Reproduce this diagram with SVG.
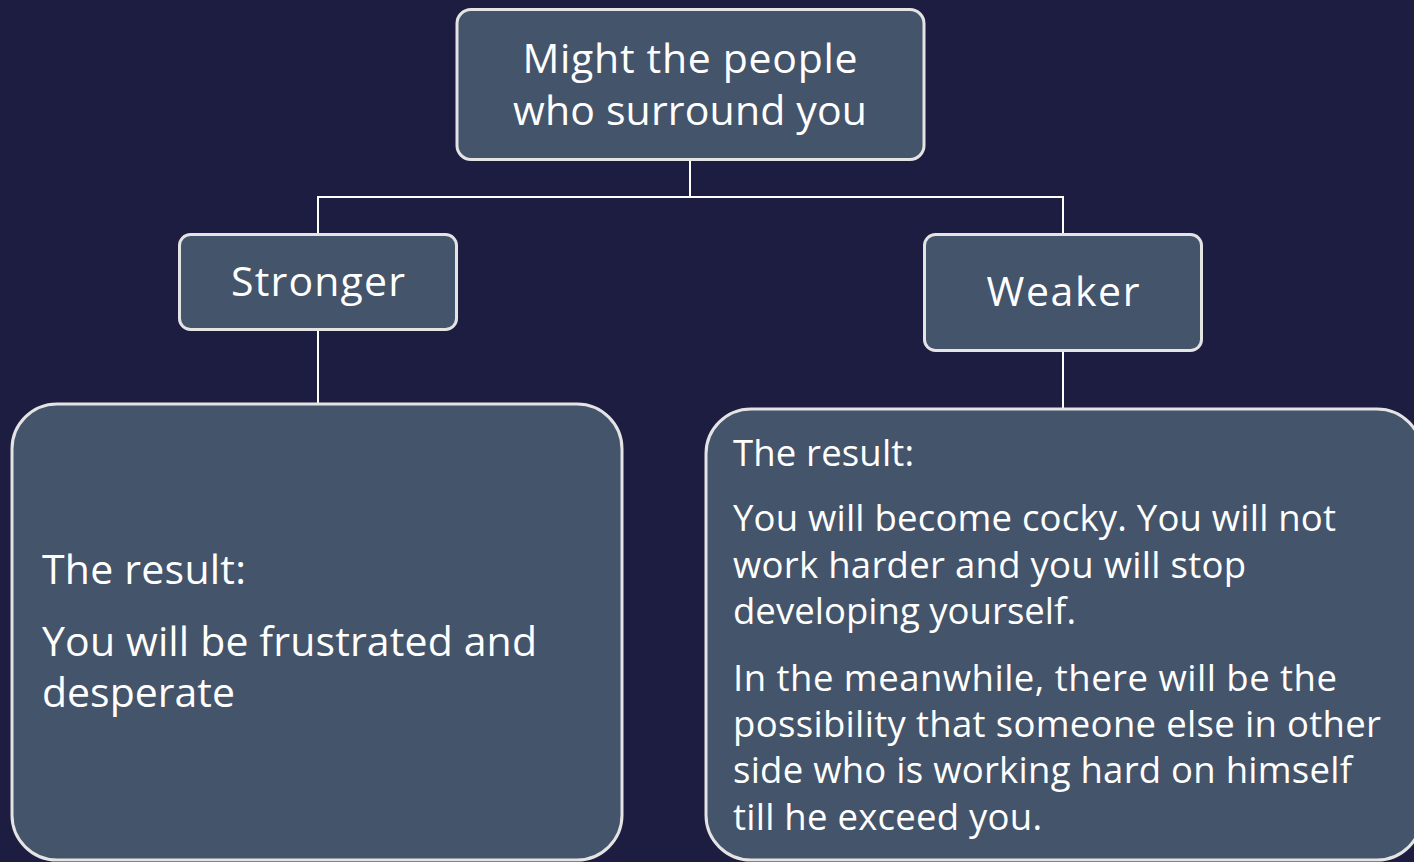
<svg xmlns="http://www.w3.org/2000/svg" width="1414" height="862" viewBox="0 0 1414 862">
<style>
.bg{fill:#1c1d40}
.box{fill:#44546a;stroke:#e4e4e4;stroke-width:3}
.conn{fill:none;stroke:#ffffff;stroke-width:2}
text{font-family:"Open Sans","Liberation Sans",sans-serif;fill:#ffffff}
.big{font-size:41px}
.mid{font-size:41px}
.small{font-size:36.5px}
</style>
<rect class="bg" x="0" y="0" width="1414" height="862"/>
<g id="connectors">
<path class="conn" d="M690 160 V197 M318 197 H1063 M318 196 V234 M1063 196 V234"/>
<path class="conn" d="M318 330 V404"/>
<path class="conn" d="M1063 351 V409"/>
</g>
<g id="node-top">
<rect class="box" x="457" y="9.5" width="467" height="150" rx="14"/>
<text class="big" x="690" y="73" text-anchor="middle" textLength="335">Might the people</text>
<text class="big" x="690" y="125" text-anchor="middle" textLength="354">who surround you</text>
</g>
<g id="node-stronger">
<rect class="box" x="179.5" y="234.5" width="277" height="95" rx="11"/>
<text class="big" x="318" y="296" text-anchor="middle" textLength="174">Stronger</text>
</g>
<g id="node-weaker">
<rect class="box" x="924.5" y="234.5" width="277" height="116" rx="11"/>
<text class="big" x="1063" y="306" text-anchor="middle" textLength="153">Weaker</text>
</g>
<g id="node-result-left">
<rect class="box" x="12" y="404" width="610" height="456" rx="45"/>
<text class="mid" x="42" y="584" textLength="204">The result:</text>
<text class="mid" x="42" y="656" textLength="495">You will be frustrated and</text>
<text class="mid" x="42" y="707" textLength="193">desperate</text>
</g>
<g id="node-result-right">
<rect class="box" x="706" y="409" width="716" height="451" rx="45"/>
<text class="small" x="733" y="466" textLength="181">The result:</text>
<text class="small" x="733" y="531" textLength="603">You will become cocky. You will not</text>
<text class="small" x="733" y="578" textLength="513">work harder and you will stop</text>
<text class="small" x="733" y="624" textLength="343">developing yourself.</text>
<text class="small" x="733" y="691" textLength="604">In the meanwhile, there will be the</text>
<text class="small" x="733" y="737" textLength="648">possibility that someone else in other</text>
<text class="small" x="733" y="783" textLength="619">side who is working hard on himself</text>
<text class="small" x="733" y="830" textLength="309">till he exceed you.</text>
</g>
</svg>
